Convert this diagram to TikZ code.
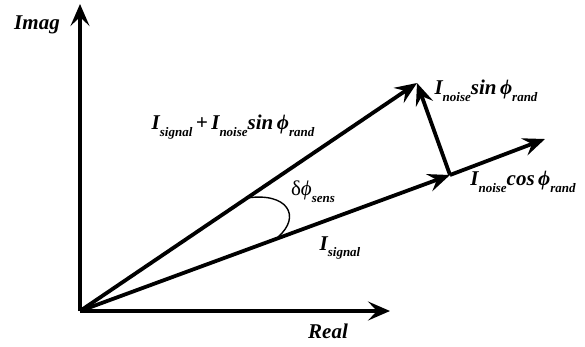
\documentclass[tikz,border=0pt]{standalone}
\usepackage{fontspec}
\setmainfont{Liberation Serif}
\usetikzlibrary{arrows.meta}
\newcommand{\sbs}[1]{\raisebox{-0.32em}{\fontsize{13}{13}\selectfont #1}}
\begin{document}
\begin{tikzpicture}[x=1pt,y=-1pt,
  axis/.style={line width=3.8pt,-{Stealth[length=22pt,width=19pt,inset=9pt]}},
  vec/.style={line width=3.8pt,-{Stealth[length=22pt,width=18pt,inset=8pt]}},
  lbl/.style={font=\fontsize{21}{21}\selectfont\bfseries\itshape, inner sep=0pt},
  ang/.style={line width=1.4pt}]
\useasboundingbox (0,0) rectangle (585,346);
\coordinate (O) at (80,311);
\coordinate (Y) at (80,4);
\coordinate (X) at (390,311);
\coordinate (P) at (417,83);
\coordinate (C) at (450,175);
\coordinate (E) at (545,139);
\coordinate (A1) at (247,198);
\coordinate (A2) at (278,237);
\draw[axis] (O) -- (Y);
\draw[axis] (O) -- (X);
\draw[vec] (O) -- (C);
\draw[vec] (C) -- (E);
\draw[vec] (O) -- (P);
\draw[vec] (C) -- (P);
\draw[ang] (A1) .. controls (287,192) and (302,216) .. (A2);
\node[lbl] (imag) at (37,25) {Imag};
\node[lbl] (real) at (328,331) {Real};
\node[lbl] (sum) at (233,127) {I\sbs{signal}\,+\,I\sbs{noise}sin\,ϕ\sbs{rand}};
\node[lbl] (nsin) at (486,91) {I\sbs{noise}sin\,ϕ\sbs{rand}};
\node[lbl] (ncos) at (523,182) {I\sbs{noise}cos\,ϕ\sbs{rand}};
\node[lbl] (dphi) at (313,192) {\mdseries\upshape δ\itshape ϕ\bfseries\sbs{sens}};
\node[lbl] (isig) at (340,248) {I\sbs{signal}};
\end{tikzpicture}
\end{document}
